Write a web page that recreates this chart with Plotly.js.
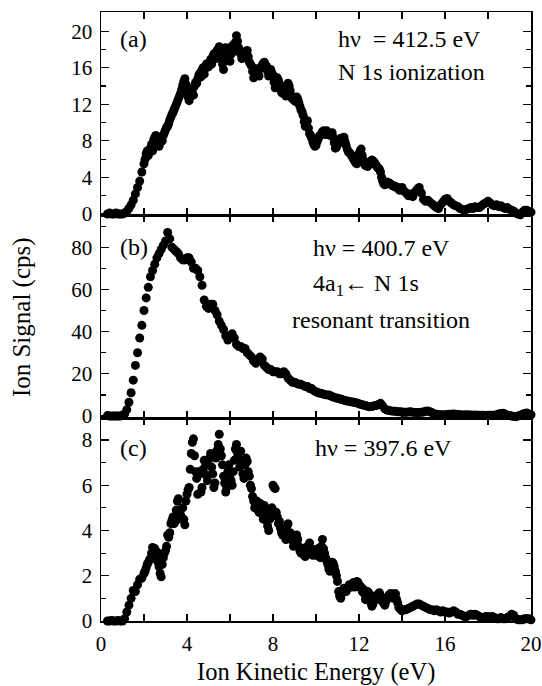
<!DOCTYPE html>
<html>
<head>
<meta charset="utf-8">
<script src="https://cdn.plot.ly/plotly-3.0.1.min.js"></script>
<style>html,body{margin:0;padding:0;background:#fff;}#chart{width:542px;height:686px;}</style>
</head>
<body>
<div id="chart"></div>
<script>
// Ion kinetic energy (eV), main grid
const energy = [
  0.3,0.4,0.5,0.6,0.7,0.8,0.9,
  1.0,1.1,1.2,1.3,1.4,1.5,1.6,1.7,1.8,1.9,
  2.0,2.1,2.2,2.3,2.4,2.5,2.6,2.7,2.8,2.9,
  3.0,3.1,3.2,3.3,3.4,3.5,3.6,3.7,3.8,3.9,
  4.0,4.1,4.2,4.3,4.4,4.5,4.6,4.7,4.8,4.9,
  5.0,5.1,5.2,5.3,5.4,5.5,5.6,5.7,5.8,5.9,
  6.0,6.1,6.2,6.3,6.4,6.5,6.6,6.7,6.8,6.9,
  7.0,7.1,7.2,7.3,7.4,7.5,7.6,7.7,7.8,7.9,
  8.0,8.1,8.2,8.3,8.4,8.5,8.6,8.7,8.8,8.9,
  9.0,9.1,9.2,9.3,9.4,9.5,9.6,9.7,9.8,9.9,
  10.0,10.1,10.2,10.3,10.4,10.5,10.6,10.7,10.8,10.9,
  11.0,11.1,11.2,11.3,11.4,11.5,11.6,11.7,11.8,11.9,
  12.0,12.1,12.2,12.3,12.4,12.5,12.6,12.7,12.8,12.9,
  13.0,13.1,13.2,13.3,13.4,13.5,13.6,13.7,13.8,13.9,
  14.0,14.1,14.2,14.3,14.4,14.5,14.6,14.7,14.8,14.9,
  15.0,15.1,15.2,15.3,15.4,15.5,15.6,15.7,15.8,15.9,
  16.0,16.1,16.2,16.3,16.4,16.5,16.6,16.7,16.8,16.9,
  17.0,17.1,17.2,17.3,17.4,17.5,17.6,17.7,17.8,17.9,
  18.0,18.1,18.2,18.3,18.4,18.5,18.6,18.7,18.8,18.9,
  19.0,19.1,19.2,19.3,19.4,19.5,19.6,19.7,19.8,19.9,
  20.0
];

// Ion kinetic energy (eV), interleaved points in the busy region
const energyMid = [
  2.05,2.15,2.25,2.35,2.45,2.55,2.65,2.75,2.85,2.95,
  3.05,3.15,3.25,3.35,3.45,3.55,3.65,3.75,3.85,3.95,
  4.05,4.15,4.25,4.35,4.45,4.55,4.65,4.75,4.85,4.95,
  5.05,5.15,5.25,5.35,5.45,5.55,5.65,5.75,5.85,5.95,
  6.05,6.15,6.25,6.35,6.45,6.55,6.65,6.75,6.85,6.95,
  7.05,7.15,7.25,7.35,7.45,7.55,7.65,7.75,7.85,7.95,
  8.05,8.15,8.25,8.35,8.45,8.55,8.65,8.75,8.85,8.95,
  9.05,9.15,9.25,9.35,9.45,9.55,9.65,9.75,9.85,9.95,
  10.05,10.15,10.25,10.35,10.45,10.55,10.65,10.75,10.85,10.95,
  11.05,11.15,11.25,11.35,11.45,11.55,11.65,11.75,11.85,11.95,
  12.05,12.15,12.25,12.35,12.45,12.55,12.65,12.75,12.85,12.95,
  13.05,13.15,13.25,13.35,13.45,13.55,13.65,13.75,13.85,13.95
];

// (a) hv = 412.5 eV, N 1s ionization (cps)
const signalA = [
  0,0.1,0,0,0.1,0,0,
  0,0.1,0.3,0.6,1.0,1.5,2.2,2.9,3.6,4.6,
  5.5,6.6,6.4,7.2,6.9,8.4,8.0,7.4,8.2,8.6,
  9.2,9.6,10.3,10.9,11.4,12.0,12.6,13.2,14.1,14.8,
  13.4,12.4,13.4,13.0,14.4,14.8,15.4,15.8,15.3,16.4,
  16.1,16.9,17.2,17.6,17.9,18.3,17.2,15.8,18.2,17.4,
  16.7,18.4,17.8,19.5,18.2,17.5,17.2,17.6,17.9,16.6,
  16.2,14.9,15.6,15.4,15.9,16.3,16.6,16.2,15.1,15.8,
  15.2,13.8,14.9,14.2,13.3,13.6,12.9,14.3,13.5,12.6,
  12.4,12.8,12.2,11.4,10.8,9.6,10.2,8.8,8.3,7.6,
  7.5,8.2,8.6,9.0,8.9,9.1,8.7,8.8,8.4,7.2,
  7.6,8.0,8.2,8.4,7.5,6.8,6.6,6.2,5.8,5.5,
  6.6,7.1,5.9,5.3,5.2,5.6,5.9,5.7,5.3,5.0,
  4.6,3.6,3.2,3.5,3.4,3.2,3.1,3.0,2.9,2.6,
  2.9,2.5,2.3,2.0,2.2,1.9,2.4,2.7,2.9,2.3,
  1.6,1.4,1.5,1.3,1.1,0.9,0.7,0.6,1.0,1.3,
  1.6,1.7,1.4,1.2,1.0,0.9,0.8,0.6,0.5,0.4,
  0.5,0.6,0.7,0.6,0.8,0.7,0.7,0.9,1.1,1.2,
  1.4,1.2,1.0,0.9,1.0,0.8,0.9,0.7,0.6,0.7,
  0.5,0.4,0.3,0.1,0.0,-0.1,0.2,0.4,0.4,0.3,
  0.2
];
const signalAMid = [
  6.0,6.9,7.0,7.6,8.1,8.6,7.6,7.8,8.0,8.9,
  9.5,9.9,10.6,11.1,11.7,12.3,12.9,13.6,14.5,14.2,
  12.8,13.0,13.6,14.0,14.3,15.2,15.0,16.0,15.9,16.2,
  16.6,16.4,17.5,17.0,18.0,17.8,16.4,17.2,18.0,16.8,
  17.5,18.0,18.8,18.9,17.8,17.0,17.4,17.8,17.2,16.4,
  15.6,15.2,15.9,15.1,16.1,16.5,16.0,15.6,15.5,15.4,
  14.4,14.3,14.6,13.6,13.2,13.9,13.8,14.0,12.9,12.8,
  12.3,12.6,11.8,11.2,10.1,9.9,9.4,8.6,7.9,7.4,
  7.9,8.5,8.8,9.1,8.7,8.9,8.6,8.9,7.8,7.3,
  7.8,8.3,8.0,7.9,7.1,6.7,6.4,6.0,5.6,6.1,
  6.9,6.4,5.5,5.4,5.4,5.8,5.8,5.5,5.1,4.9,
  4.0,3.3,3.3,3.4,3.3,3.1,3.0,2.9,2.7,2.8
];

// (b) hv = 400.7 eV, 4a1 <- N 1s resonant transition (cps)
const signalB = [
  0.2,0,0,0,0,0,0,
  0.3,1.0,3.0,6.5,11,17,24,30,37,43,
  50,56,61,66,69,72,75,77,79,81,
  83,87,84,80,79,78,77,75,74,74,
  75,75,73,70,70,69,66,62,55,52,
  51,53,53,50,48,45,43,41,38,36,
  38,39,37,34,33,33,32,32,30,29,
  28,26,25,26,28,27,24,23,22,22,
  21,21,21,20,20,21,20,18,17,16,
  16,15.5,15,15,14.5,14,14,13,13,12,
  11.5,11,10.8,10.5,10.2,10,10,9.5,9,8.7,
  8.4,8.2,7.8,7.5,7.2,7,6.8,6.6,6.4,6.2,
  5.8,5.4,5.2,5.0,4.6,4.4,4.5,4.8,5.0,5.5,
  6.0,4.8,3.4,2.8,2.6,2.4,2.3,2.2,2.0,2.0,
  1.9,1.8,1.8,1.9,2.0,1.8,1.7,1.6,1.7,1.8,
  1.9,2.2,2.4,2.0,1.5,1.1,0.8,0.7,0.6,0.5,
  0.6,0.7,0.8,0.8,0.9,0.8,0.7,0.6,0.5,0.5,
  0.6,0.5,0.5,0.4,0.5,0.4,0.3,0.3,0.3,0.2,
  0.3,0.3,0.4,0.4,0.6,0.9,1.2,1.3,0.9,0.4,
  0.2,0.0,-0.2,-0.3,0.0,0.4,0.8,1.2,1.4,1.0,
  0.6
];

// (c) hv = 397.6 eV (cps)
const signalC = [
  0,0,0.02,0,0,0.02,0,
  0,0.1,0.4,0.7,1.0,1.35,1.3,1.6,1.85,1.9,
  2.1,2.35,2.6,2.75,3.25,3.2,3.05,2.4,1.95,2.8,
  3.1,3.8,3.9,4.45,4.3,4.9,5.4,4.7,5.0,4.25,
  5.6,5.9,7.4,8.05,6.6,5.6,6.5,5.9,7.1,6.45,
  6.9,7.4,6.5,6.1,7.55,8.25,7.3,6.4,5.7,6.6,
  6.3,6.0,7.1,7.8,7.2,7.5,6.5,6.9,7.05,6.4,
  5.85,5.3,5.1,4.9,5.2,4.7,5.1,4.45,4.0,4.8,
  6.0,5.85,4.6,4.4,3.9,4.1,3.6,4.3,3.9,3.55,
  3.4,3.8,3.3,3.0,3.15,2.85,3.3,3.45,3.0,3.15,
  2.9,3.2,2.8,3.6,3.0,2.65,2.3,2.4,2.55,2.2,
  1.75,1.1,1.2,1.45,1.3,1.5,1.55,1.6,1.5,1.75,
  1.6,1.5,1.4,0.95,1.3,1.15,0.65,0.9,1.0,1.2,
  1.1,0.85,0.7,1.0,1.15,1.2,1.0,1.2,0.8,0.55,
  0.45,0.5,0.5,0.55,0.6,0.65,0.7,0.75,0.75,0.7,
  0.65,0.6,0.55,0.5,0.5,0.45,0.5,0.45,0.4,0.45,
  0.4,0.4,0.35,0.4,0.45,0.4,0.3,0.3,0.25,0.2,
  0.2,0.25,0.3,0.25,0.3,0.25,0.2,0.15,0.15,0.2,
  0.2,0.15,0.2,0.15,0.1,0.1,0.15,0.1,0.1,0.15,
  0.2,0.3,0.25,0.1,0.05,0.05,0.05,0.1,0.1,0.1,
  0.05
];
const signalCMid = [
  2.2,2.5,2.7,3.0,3.2,2.9,2.6,2.1,2.5,3.0,
  3.3,3.7,4.3,4.6,4.4,5.3,4.9,4.5,4.5,5.3,
  5.8,6.7,7.9,7.3,6.3,6.6,5.7,6.7,7.0,6.2,
  7.2,6.8,5.9,7.2,7.8,7.6,6.9,6.1,5.9,6.9,
  6.2,6.6,7.6,7.4,6.8,7.0,6.3,7.2,6.6,6.0,
  5.5,5.0,5.3,4.8,5.0,4.5,4.8,4.2,4.5,5.0,
  5.9,4.8,4.3,4.1,3.8,4.0,4.2,3.7,3.7,3.3,
  3.6,3.6,3.1,3.2,2.9,3.2,3.3,3.2,2.9,3.0,
  3.1,2.9,3.3,3.2,2.8,2.5,2.2,2.6,2.4,2.0,
  1.3,1.0,1.3,1.4,1.4,1.6,1.5,1.7,1.6,1.7,
  1.5,1.3,1.2,1.1,1.25,0.8,0.75,1.1,1.1,1.25,
  0.9,0.8,0.85,1.1,1.2,1.1,1.2,0.95,0.6,0.5
];

const xTickVals = [0, 4, 8, 12, 16, 20];
const yTickValsA = [0, 4, 8, 12, 16, 20];
const yTickValsB = [0, 20, 40, 60, 80];
const yTickValsC = [0, 2, 4, 6, 8];

const FONT = 'Liberation Serif';
const marker = {color: '#000', size: 9, line: {width: 0}};

function trace(x, y, xa, ya) {
  return {x: x, y: y, xaxis: xa, yaxis: ya, type: 'scatter', mode: 'markers',
          marker: marker, cliponaxis: false, hoverinfo: 'skip'};
}

function xAxis(anchor, labels) {
  return {
    anchor: anchor, range: [0, 20], tickvals: xTickVals, ticks: 'inside', ticklen: 7,
    tickwidth: 1.2, tickcolor: '#000', showline: true, linecolor: '#000', linewidth: 1.5,
    mirror: 'ticks', showgrid: false, zeroline: false, showticklabels: labels,
    ticklabelstandoff: 3,
    tickfont: {family: FONT, size: 21, color: '#000'},
    minor: {dtick: 2, ticks: 'inside', ticklen: 7, tickwidth: 1.2, tickcolor: '#000', showgrid: false}
  };
}
function yAxis(domain, range, vals, minorStep) {
  return {
    domain: domain, range: range, tickvals: vals, ticks: 'inside', ticklen: 8,
    tickwidth: 1.2, tickcolor: '#000', showline: true, linecolor: '#000', linewidth: 1.5,
    mirror: 'ticks', showgrid: false, zeroline: false, ticklabelstandoff: 3,
    tickfont: {family: FONT, size: 21, color: '#000'},
    minor: {dtick: minorStep, ticks: 'inside', ticklen: 5, tickwidth: 1.2, tickcolor: '#000', showgrid: false}
  };
}

const data = [
  trace(energy, signalA, 'x', 'y'),
  trace(energyMid, signalAMid, 'x', 'y'),
  trace(energy, signalB, 'x2', 'y2'),
  trace(energy, signalC, 'x3', 'y3'),
  trace(energyMid, signalCMid, 'x3', 'y3')
];

function ann(xref, yref, x, y, text) {
  return {xref: xref, yref: yref, x: x, y: y, text: text, showarrow: false,
          xanchor: 'left', yanchor: 'middle', font: {family: FONT, size: 24, color: '#000'}};
}

const layout = {
  width: 542, height: 686,
  margin: {l: 101, r: 11, t: 12, b: 65},
  paper_bgcolor: '#fff', plot_bgcolor: '#fff',
  showlegend: false,
  font: {family: FONT, color: '#000'},
  xaxis: xAxis('y', false),
  xaxis2: xAxis('y2', false),
  xaxis3: xAxis('y3', true),
  yaxis: yAxis([2/3, 1], [-0.11, 22.1], yTickValsA, 2),
  yaxis2: yAxis([1/3, 2/3], [-0.95, 95.3], yTickValsB, 10),
  yaxis3: yAxis([0, 1/3], [0, 8.97], yTickValsC, 1),
  annotations: [
    ann('x', 'y', 0.77, 19.2, '(a)'),
    ann('x', 'y', 10.95, 19.2, 'h\u03bd \u00a0= 412.5 eV'),
    ann('x', 'y', 10.95, 15.5, 'N 1s ionization'),
    ann('x2', 'y2', 0.77, 80, '(b)'),
    ann('x2', 'y2', 9.79, 79.6, 'h\u03bd = 400.7 eV'),
    ann('x2', 'y2', 9.79, 62, '4a<sub>1</sub>\u2190 N 1s'),
    ann('x2', 'y2', 8.77, 45.5, 'resonant transition'),
    ann('x3', 'y3', 0.77, 7.65, '(c)'),
    ann('x3', 'y3', 9.84, 7.65, 'h\u03bd = 397.6 eV'),
    {xref: 'paper', yref: 'paper', x: 0.5, y: -0.084, text: 'Ion Kinetic Energy (eV)',
     showarrow: false, xanchor: 'center', yanchor: 'middle', font: {family: FONT, size: 24.5, color: '#000'}},
    {xref: 'paper', yref: 'paper', x: -0.1837, y: 0.499, text: 'Ion Signal (cps)', textangle: -90,
     showarrow: false, xanchor: 'center', yanchor: 'middle', font: {family: FONT, size: 25, color: '#000'}}
  ]
};

Plotly.newPlot('chart', data, layout, {displayModeBar: false, staticPlot: true});
</script>
</body>
</html>
